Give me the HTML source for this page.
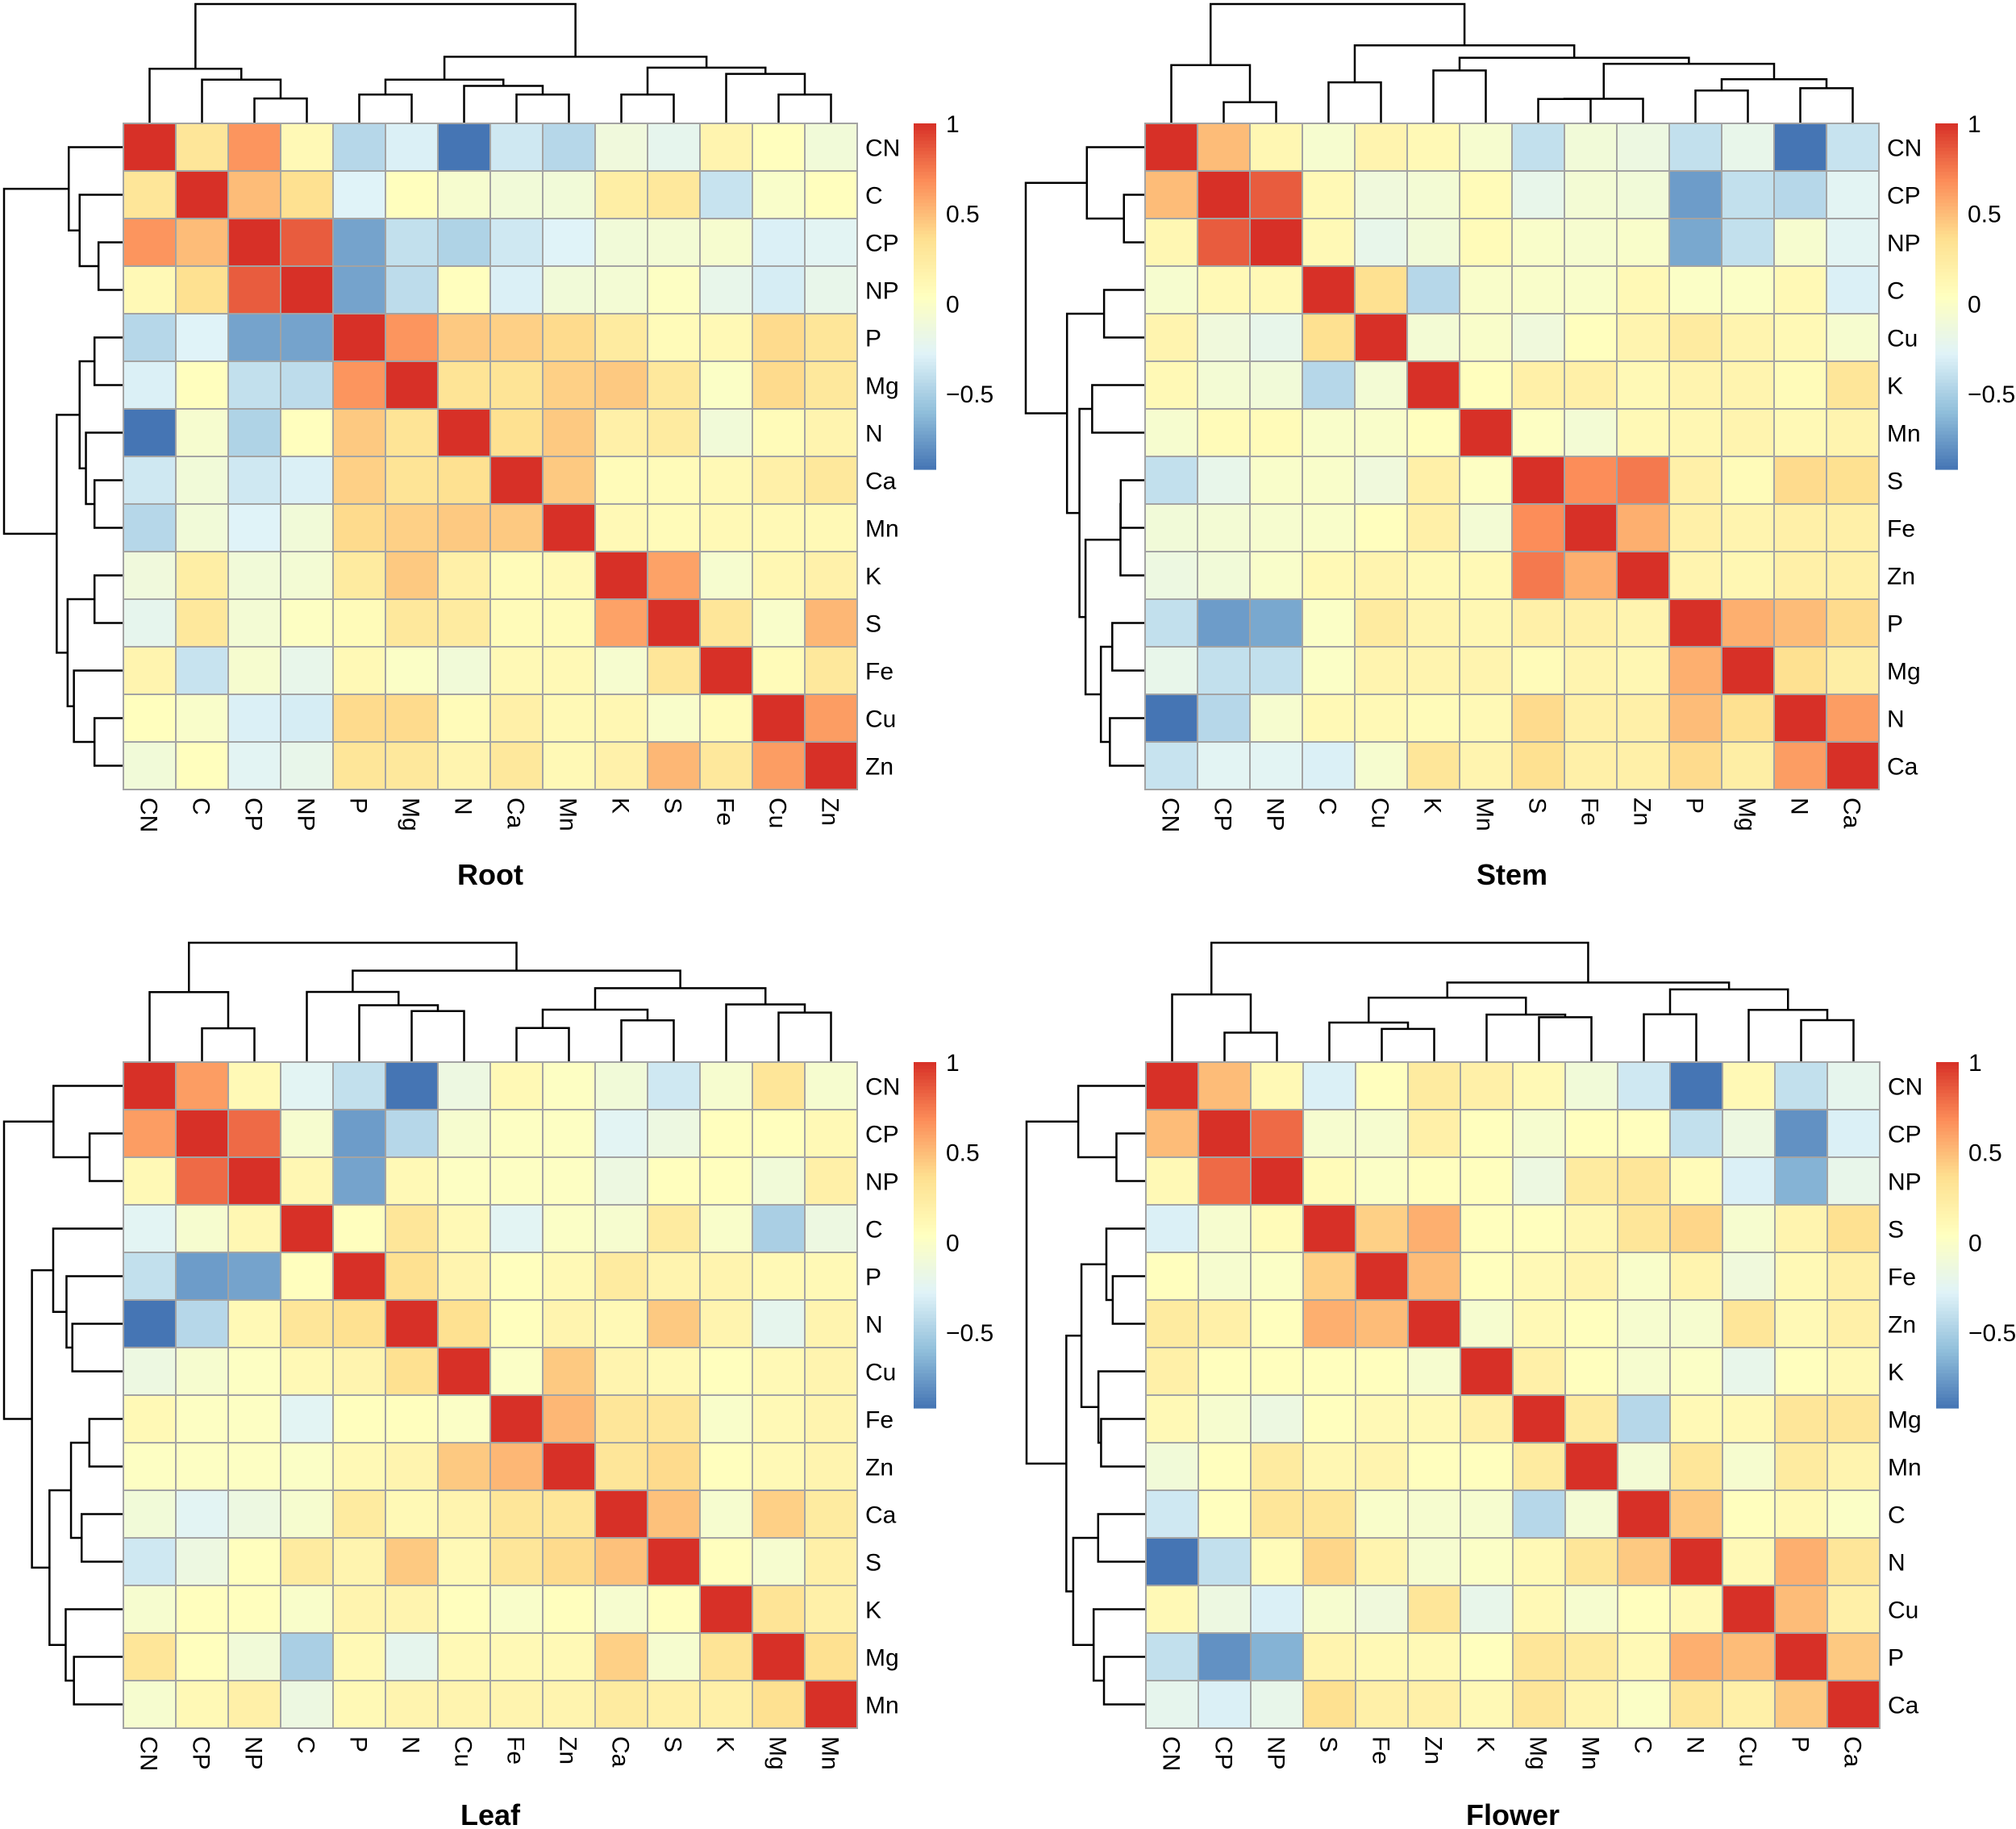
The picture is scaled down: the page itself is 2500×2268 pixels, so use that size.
<!DOCTYPE html>
<html><head><meta charset="utf-8"><style>
html,body{margin:0;padding:0;background:#fff}
svg{display:block;font-family:"Liberation Sans",sans-serif}
</style></head><body>
<svg id="chart" width="2500" height="2268" viewBox="0 0 2500 2268" xmlns="http://www.w3.org/2000/svg"></svg>
<script>
// ---------- data ----------
const rootLabels = ["CN","C","CP","NP","P","Mg","N","Ca","Mn","K","S","Fe","Cu","Zn"];
const rootUpper = [
 [0.3,0.65,0.1,-0.45,-0.3,-0.92,-0.35,-0.45,-0.12,-0.22,0.15,0.05,-0.1],
 [0.5,0.35,-0.28,0.05,-0.05,-0.1,-0.1,0.22,0.28,-0.38,-0.02,0.05],
 [0.85,-0.72,-0.4,-0.48,-0.35,-0.28,-0.1,-0.08,-0.05,-0.3,-0.25],
 [-0.72,-0.42,0.05,-0.3,-0.1,-0.08,0.02,-0.2,-0.32,-0.2],
 [0.65,0.45,0.42,0.38,0.25,0.08,0.1,0.38,0.3],
 [0.32,0.32,0.42,0.45,0.28,0.0,0.38,0.28],
 [0.35,0.45,0.2,0.25,-0.1,0.08,0.15],
 [0.45,0.08,0.08,0.1,0.2,0.28],
 [0.1,0.08,0.1,0.1,0.1],
 [0.6,-0.05,0.12,0.18],
 [0.3,-0.02,0.52],
 [0.08,0.28],
 [0.62]
];
const rootMerge = [[-3,-4],[-2,1],[-1,2],[-5,-6],[-8,-9],[-7,5],[4,6],[-10,-11],[-13,-14],[-12,9],[8,10],[7,11],[3,12]];
const rootHeight = [42,75,94,49,49,64,75,49,49,85,96,115,207];

const stemLabels = ["CN","CP","NP","C","Cu","K","Mn","S","Fe","Zn","P","Mg","N","Ca"];
const stemUpper = [
 [0.5,0.12,-0.05,0.15,0.1,-0.05,-0.4,-0.1,-0.15,-0.4,-0.2,-0.92,-0.38],
 [0.85,0.1,-0.12,-0.08,0.08,-0.2,-0.08,-0.1,-0.75,-0.4,-0.45,-0.25],
 [0.1,-0.2,-0.1,0.08,-0.02,-0.05,-0.02,-0.7,-0.4,-0.05,-0.25],
 [0.35,-0.45,-0.02,-0.02,-0.02,0.1,0.0,0.0,0.1,-0.3],
 [-0.08,-0.02,-0.12,0.05,0.15,0.25,0.15,0.1,-0.05],
 [0.05,0.2,0.2,0.1,0.15,0.15,0.08,0.3],
 [0.02,-0.08,0.1,0.12,0.15,0.1,0.15],
 [0.68,0.75,0.2,0.08,0.38,0.35],
 [0.55,0.2,0.15,0.2,0.2],
 [0.15,0.12,0.2,0.2],
 [0.55,0.5,0.38],
 [0.35,0.22],
 [0.62]
];
const stemMerge = [[-2,-3],[-1,1],[-4,-5],[-6,-7],[-8,-9],[5,-10],[-11,-12],[-13,-14],[7,8],[6,9],[4,10],[3,11],[2,12]];
const stemHeight = [77,217,152,197,89,90,121,130,164,222,245,292,448];

const leafLabels = ["CN","CP","NP","C","P","N","Cu","Fe","Zn","Ca","S","K","Mg","Mn"];
const leafUpper = [
 [0.62,0.1,-0.25,-0.4,-0.92,-0.15,0.1,0.02,-0.1,-0.35,-0.05,0.3,-0.05],
 [0.8,-0.05,-0.75,-0.45,-0.05,0.02,0.02,-0.25,-0.15,0.05,0.05,0.1],
 [0.12,-0.72,0.1,0.02,0.02,0.02,-0.15,0.05,0.05,-0.1,0.2],
 [0.05,0.3,0.1,-0.25,0.0,-0.05,0.25,-0.02,-0.5,-0.15],
 [0.35,0.15,0.05,0.1,0.25,0.15,0.15,0.1,0.1],
 [0.35,0.05,0.15,0.1,0.45,0.15,-0.22,0.15],
 [0.0,0.45,0.15,0.1,0.05,0.1,0.15],
 [0.52,0.3,0.3,-0.02,0.1,0.15],
 [0.3,0.38,0.05,0.1,0.15],
 [0.48,-0.05,0.42,0.25],
 [0.05,-0.05,0.2],
 [0.32,0.2],
 [0.35]
];
const leafMerge = [[-2,-3],[-1,1],[-6,-7],[-5,3],[-4,4],[-8,-9],[-10,-11],[6,7],[-13,-14],[-12,9],[8,10],[5,11],[2,12]];
const leafHeight = [124,260,189,211,261,125,154,194,183,214,275,341,446];

const flowerLabels = ["CN","CP","NP","S","Fe","Zn","K","Mg","Mn","C","N","Cu","P","Ca"];
const flowerUpper = [
 [0.5,0.1,-0.3,0.05,0.25,0.2,0.1,-0.1,-0.35,-0.92,0.1,-0.4,-0.22],
 [0.8,-0.05,-0.05,0.2,0.05,-0.05,0.05,0.05,-0.4,-0.15,-0.8,-0.3],
 [0.08,0.0,0.05,0.05,-0.15,0.25,0.3,0.08,-0.3,-0.65,-0.2],
 [0.42,0.55,0.05,0.05,0.12,0.3,0.4,-0.05,0.15,0.35],
 [0.5,0.05,0.1,0.15,-0.02,0.15,-0.12,0.1,0.2],
 [-0.05,0.1,0.05,-0.05,-0.05,0.3,0.1,0.2],
 [0.2,0.05,-0.05,0.0,-0.2,0.05,0.1],
 [0.25,-0.45,0.1,0.1,0.3,0.3],
 [-0.08,0.3,-0.05,0.25,0.15],
 [0.45,0.05,0.1,0.0],
 [0.1,0.55,0.3],
 [0.5,0.2],
 [0.45]
];
const flowerMerge = [[-2,-3],[-1,1],[-5,-6],[-4,3],[-8,-9],[-7,5],[4,6],[-10,-11],[-13,-14],[-12,9],[8,10],[7,11],[2,12]];
const flowerHeight = [108,252,122,146,166,176,240,177,155,194,271,297,447];

const legendTicks = [1,0.5,0,-0.5];
const legendTickText = ["1","0.5","0","\u22120.5"];
const vMin = -0.92, vMax = 1;

// ---------- rendering ----------
const NS = "http://www.w3.org/2000/svg";
const svg = document.getElementById("chart");
const palette = ["#4575B4","#91BFDB","#E0F3F8","#FFFFBF","#FEE090","#FC8D59","#D73027"];
function hex(c){return [parseInt(c.slice(1,3),16),parseInt(c.slice(3,5),16),parseInt(c.slice(5,7),16)];}
function colorOf(v){
  let t=(v-vMin)/(vMax-vMin); t=Math.max(0,Math.min(1,t));
  const p=t*6, i=Math.min(5,Math.floor(p)), f=p-i;
  const a=hex(palette[i]), b=hex(palette[i+1]);
  return "rgb("+a.map((x,k)=>Math.round(x+(b[k]-x)*f)).join(",")+")";
}
function mk(tag, attrs, parent){
  const e=document.createElementNS(NS,tag);
  for(const k in attrs) e.setAttribute(k,attrs[k]);
  (parent||svg).appendChild(e); return e;
}
const CW=65, CH=59, N=14;

function drawPanel(name, x0, y0, labels, upper, merge, height, title, titleY){
  const g=mk("g",{});
  
  
  // full matrix
  const M=[];
  for(let i=0;i<N;i++){M.push([]);for(let j=0;j<N;j++)M[i].push(1);}
  for(let i=0;i<N-1;i++)for(let k=0;k<upper[i].length;k++){const j=i+1+k;M[i][j]=upper[i][k];M[j][i]=upper[i][k];}
  const xs=i=>x0+i*CW, ys=i=>y0+i*CH;
  for(let i=0;i<N;i++)for(let j=0;j<N;j++){
    const r=mk("rect",{x:xs(j),y:ys(i),width:CW,height:CH,fill:colorOf(M[i][j]),stroke:"#A3A3A3","stroke-width":2},g);
    
    
  }
  // row labels
  for(let i=0;i<N;i++){
    const t=mk("text",{x:xs(N)+10,y:ys(i)+CH/2+11,"font-size":30,fill:"#000"},g);
    t.textContent=labels[i];
    
    
  }
  // col labels
  for(let j=0;j<N;j++){
    const cx=xs(j)+CW/2, yy=ys(N)+10;
    const t=mk("text",{x:cx,y:yy,"font-size":30,fill:"#000",transform:"rotate(90 "+cx+" "+yy+")",dy:11},g);
    t.textContent=labels[j];
    
    
  }
  // dendrograms
  const maxH=Math.max(...height), sc=147/maxH;
  const nodeX=[], nodeH=[];
  function pos(ref){return ref<0?{p:-ref-1+0.5,h:0}:{p:nodeX[ref-1],h:nodeH[ref-1]};}
  let dTop="", dLeft="";
  for(let m=0;m<merge.length;m++){
    const a=pos(merge[m][0]), b=pos(merge[m][1]), h=height[m];
    nodeX.push((a.p+b.p)/2); nodeH.push(h);
    // top tree
    const ax=x0+a.p*CW, bx=x0+b.p*CW, base=y0-1;
    const ay=base-a.h*sc, by=base-b.h*sc, hy=base-h*sc;
    dTop+="M"+ax+" "+ay+"V"+hy+"H"+bx+"V"+by;
    // left tree
    const aY=y0+a.p*CH, bY=y0+b.p*CH, lb=x0-1;
    const aX=lb-a.h*sc, bX=lb-b.h*sc, hX=lb-h*sc;
    dLeft+="M"+aX+" "+aY+"H"+hX+"V"+bY+"H"+bX;
  }
  const pt=mk("path",{d:dTop,fill:"none",stroke:"#000","stroke-width":2.5},g);
  
  
  const pl=mk("path",{d:dLeft,fill:"none",stroke:"#000","stroke-width":2.5},g);
  
  
  // legend
  const lx=xs(N)+70, lh=429;
  const lg=mk("g",{},g);
  
  
  const steps=100;
  for(let s=0;s<steps;s++){
    const v=vMax-(vMax-vMin)*(s+0.5)/steps;
    mk("rect",{x:lx,y:y0+s*lh/steps,width:28,height:lh/steps+0.6,fill:colorOf(v)},lg);
  }
  for(let k=0;k<legendTicks.length;k++){
    const ty=y0+(vMax-legendTicks[k])/(vMax-vMin)*lh;
    const t=mk("text",{x:lx+40,y:ty+11,"font-size":30,fill:"#000"},lg);
    t.textContent=legendTickText[k];
    
    
  }
  const tt=mk("text",{x:x0+N*CW/2,y:titleY,"font-size":36,"font-weight":"bold","text-anchor":"middle",fill:"#000"},g);
  tt.textContent=title;
  
  
}
drawPanel("root",153,153,rootLabels,rootUpper,rootMerge,rootHeight,"Root",1097);
drawPanel("stem",1420,153,stemLabels,stemUpper,stemMerge,stemHeight,"Stem",1097);
drawPanel("leaf",153,1317,leafLabels,leafUpper,leafMerge,leafHeight,"Leaf",2263);
drawPanel("flower",1421,1317,flowerLabels,flowerUpper,flowerMerge,flowerHeight,"Flower",2263);
</script>
</body></html>
